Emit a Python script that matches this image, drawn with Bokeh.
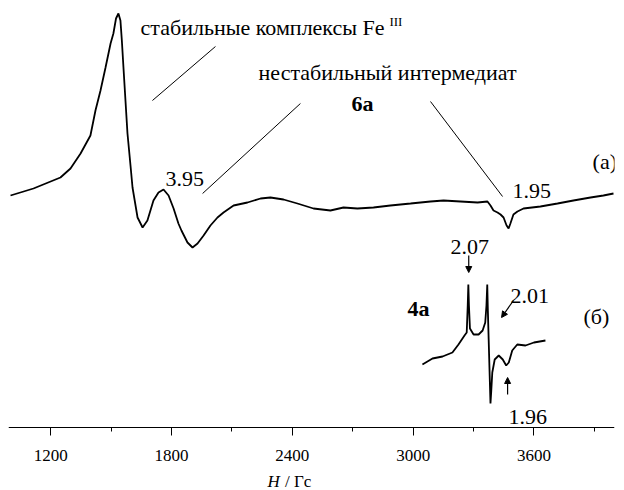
from bokeh.plotting import figure
from bokeh.models import Range1d, FixedTicker, Label, Arrow, NormalHead, LinearAxis
from bokeh.embed import file_html
from bokeh.resources import INLINE

# ---- data (field in Gs, intensity in arbitrary units) ----
field_a = [1000, 1114, 1248, 1298, 1348, 1397, 1422, 1447, 1472, 1497,
           1511, 1524, 1536, 1546, 1553, 1561, 1581, 1596, 1606, 1631,
           1656, 1680, 1710, 1735, 1760, 1785, 1810, 1834, 1849, 1879,
           1904, 1929, 1959, 1993, 2028, 2058, 2108, 2177, 2242, 2291,
           2356, 2425, 2505, 2589, 2654, 2723, 2803, 2887, 2987, 3086,
           3151, 3235, 3320, 3369, 3384, 3399, 3419, 3434, 3449, 3464,
           3474, 3483, 3498, 3518, 3548, 3632, 3717, 3796, 3881, 3945,
           3995]
signal_a = [5, 12, 23, 32, 47, 65, 90, 110, 133, 157,
            167, 182, 187, 180, 160, 133, 67, 35, 13, -17,
            -27, -20, 0, 8, 11, 5, -8, -23, -30, -42,
            -47, -43, -35, -25, -17, -12, -5, -2, 2, 3,
            1, -3, -8, -10, -7, -8, -7, -5, -3, -1,
            0, -1, -2, -1, -5, -10, -12, -14, -17, -25,
            -28, -23, -14, -11, -8, -6, -3, 0, 3, 5,
            7]

field_b = [3046, 3096, 3146, 3195, 3225, 3255, 3266, 3271, 3274, 3277,
           3282, 3300, 3325, 3345, 3358, 3364, 3368, 3371, 3375, 3380,
           3384, 3388, 3393, 3405, 3425, 3445, 3462, 3475, 3492, 3517,
           3558, 3600, 3657]
signal_b = [-14, -8, -6, -2, 6, 15, 18, 45, 66, 45,
            22, 16, 16, 20, 28, 45, 66, 40, 11, -25,
            -53, -40, -22, -9, -5, -9, -15, -12, 0, 6,
            5, 8, 10]

tick_values = [1200, 1800, 2400, 3000, 3600]
minor_tick_values = [1500, 2100, 2700, 3300, 3900]
x_label_italic = "H"
x_label_rest = "/ Гс"

# ---- layout ----
OFFSET_A = 227
OFFSET_B = 77
SERIF = "Liberation Serif"

p = figure(width=624, height=490, x_range=Range1d(990, 4000), y_range=Range1d(-63, 427),
           output_backend="svg", toolbar_location=None,
           x_axis_location=None, y_axis_location=None,
           min_border_left=8, min_border_right=10, min_border_top=0, min_border_bottom=0)
p.outline_line_color = None
p.grid.visible = False
p.background_fill_color = "white"
p.border_fill_color = "white"

p.line(field_a, [v + OFFSET_A for v in signal_a], line_color="black", line_width=1.8)
p.line(field_b, [v + OFFSET_B for v in signal_b], line_color="black", line_width=1.8)

ax = LinearAxis(fixed_location=0)
ax.ticker = FixedTicker(ticks=tick_values, minor_ticks=minor_tick_values)
ax.major_tick_out = 8
ax.major_tick_in = 0
ax.minor_tick_out = 4
ax.minor_tick_in = 0
ax.axis_line_color = "black"
ax.axis_line_width = 1
ax.major_tick_line_color = "black"
ax.minor_tick_line_color = "black"
ax.major_label_text_font = SERIF
ax.major_label_text_font_size = "17px"
ax.major_label_text_color = "black"
ax.major_label_standoff = 14
p.add_layout(ax, "below")


def add_text(x, y, text, size=22, style=None):
    kw = dict(x=x, y=y - round(size * 0.22), text=text, text_font=SERIF,
              text_font_size=f"{size}px", text_color="black")
    if style:
        kw["text_font_style"] = style
    p.add_layout(Label(**kw))


add_text(1646, 393, "стабильные комплексы Fe")
add_text(2882, 402, "III", size=13)
add_text(2232, 348, "нестабильный интермедиат")
add_text(2694, 317, "6а", style="bold")
add_text(1770, 247, "3.95")
add_text(3493, 235, "1.95")
add_text(3891, 259, "(а)")
add_text(3185, 179, "2.07")
add_text(3483, 130, "2.01")
add_text(2972, 112, "4а", style="bold")
add_text(3846, 104, "(б)")
add_text(3474, 9, "1.96")
add_text(2276, -59, x_label_italic, size=17, style="italic")
add_text(2363, -59, x_label_rest, size=17)

# leader lines
p.segment(x0=[2018, 2440, 3086], y0=[381, 324, 326],
          x1=[1705, 1954, 3444], y1=[327, 234, 231],
          line_color="black", line_width=1)

# arrows
for xs, ys, xe, ye in [(3276, 172, 3276, 155), (3498, 127, 3439, 110), (3469, 33, 3469, 50)]:
    p.add_layout(Arrow(end=NormalHead(size=6, fill_color="black", line_color="black", line_width=1),
                       x_start=xs, y_start=ys, x_end=xe, y_end=ye,
                       line_color="black", line_width=1.2))

open("out.html", "w").write(file_html(p, INLINE))
